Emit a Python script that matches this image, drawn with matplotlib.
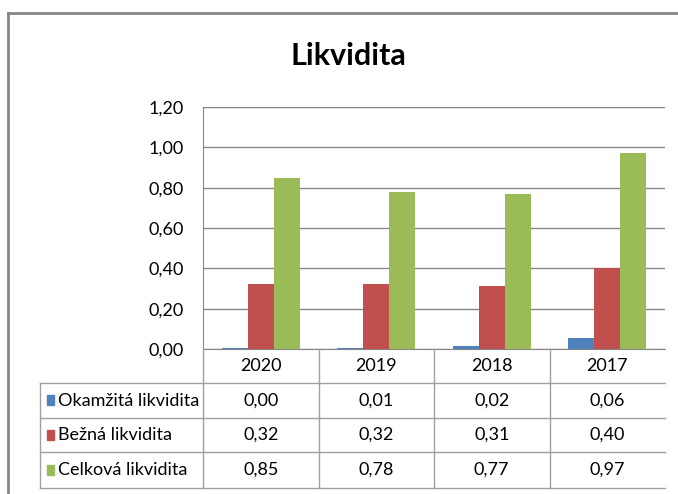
import matplotlib
matplotlib.use("Agg")
import matplotlib.pyplot as plt
from matplotlib.lines import Line2D
from matplotlib.patches import Rectangle
import matplotlib.transforms as mtransforms

plt.rcParams['font.family'] = ['Lato', 'DejaVu Sans']

title = "Likvidita"
categories = ["2020", "2019", "2018", "2017"]
series_names = ["Okamžitá likvidita", "Bežná likvidita", "Celková likvidita"]
okamzita = [0.004, 0.006, 0.016, 0.056]
bezna = [0.32, 0.32, 0.31, 0.40]
celkova = [0.85, 0.78, 0.77, 0.97]
colors = ["#4F81BD", "#C0504D", "#9BBB59"]
yticks = [0.0, 0.2, 0.4, 0.6, 0.8, 1.0, 1.2]

W, H = 678, 494
fig = plt.figure(figsize=(W / 100, H / 100), dpi=100)

def fx(px):
    return px / W

def fy(py):
    return 1 - py / H

# outer chart border (top and left visible)
fig.add_artist(Line2D([fx(8), fx(8)], [fy(13), fy(494)], color="#868686", lw=2, transform=fig.transFigure))
fig.add_artist(Line2D([fx(8), fx(678)], [fy(13), fy(13)], color="#868686", lw=2, transform=fig.transFigure))

fig.text(fx(348), fy(56), title, ha="center", va="center", fontsize=22, fontweight="bold")

left, right, top, bottom = 203, 665, 107, 349
ax = fig.add_axes([fx(left), fy(bottom), fx(right - left), (bottom - top) / H])

n = len(categories)
bw = 0.225
series = [okamzita, bezna, celkova]
for i, (vals, c) in enumerate(zip(series, colors)):
    xs = [k + (i - 1) * bw for k in range(n)]
    ax.bar(xs, vals, width=bw, color=c, zorder=3, edgecolor="none")

ax.set_xlim(-0.5, n - 0.5)
ax.set_ylim(0, 1.2)
ax.set_yticks(yticks)
ax.set_yticklabels([f"{v:.2f}".replace(".", ",") for v in yticks], fontsize=13)
ax.tick_params(axis="y", length=0, pad=14)
ax.set_xticks([])
ax.grid(axis="y", color="#868686", lw=1, zorder=0)
for s in ["top", "right"]:
    ax.spines[s].set_visible(False)
ax.spines["left"].set_color("#868686")
ax.spines["bottom"].set_color("#868686")

# data table
trans = mtransforms.blended_transform_factory(ax.transData, fig.transFigure)
rows_y = [349, 383, 418, 452, 488]
grid_c = "#A0A0A0"
for ry in rows_y[1:]:
    fig.add_artist(Line2D([fx(40), fx(665)], [fy(ry), fy(ry)], color=grid_c, lw=1, transform=fig.transFigure))
fig.add_artist(Line2D([fx(40), fx(40)], [fy(383), fy(488)], color=grid_c, lw=1, transform=fig.transFigure))
for k in range(n):
    xb = k - 0.5
    fig.add_artist(Line2D([xb, xb], [fy(349), fy(488)], color=grid_c, lw=1, transform=trans))

for k, cat in enumerate(categories):
    fig.text(k, fy(366), cat, transform=trans, ha="center", va="center", fontsize=13)

for r, (name, vals, c) in enumerate(zip(series_names, series, colors)):
    yc = (rows_y[r + 1] + rows_y[r + 2]) / 2
    fig.add_artist(Rectangle((fx(47), fy(yc + 5)), fx(7), 10 / H, color=c, transform=fig.transFigure))
    fig.text(fx(58), fy(yc), name, ha="left", va="center", fontsize=13)
    for k, v in enumerate(vals):
        fig.text(k, fy(yc), f"{v:.2f}".replace(".", ","), transform=trans, ha="center", va="center", fontsize=13)

fig.savefig("out.png", dpi=100)
